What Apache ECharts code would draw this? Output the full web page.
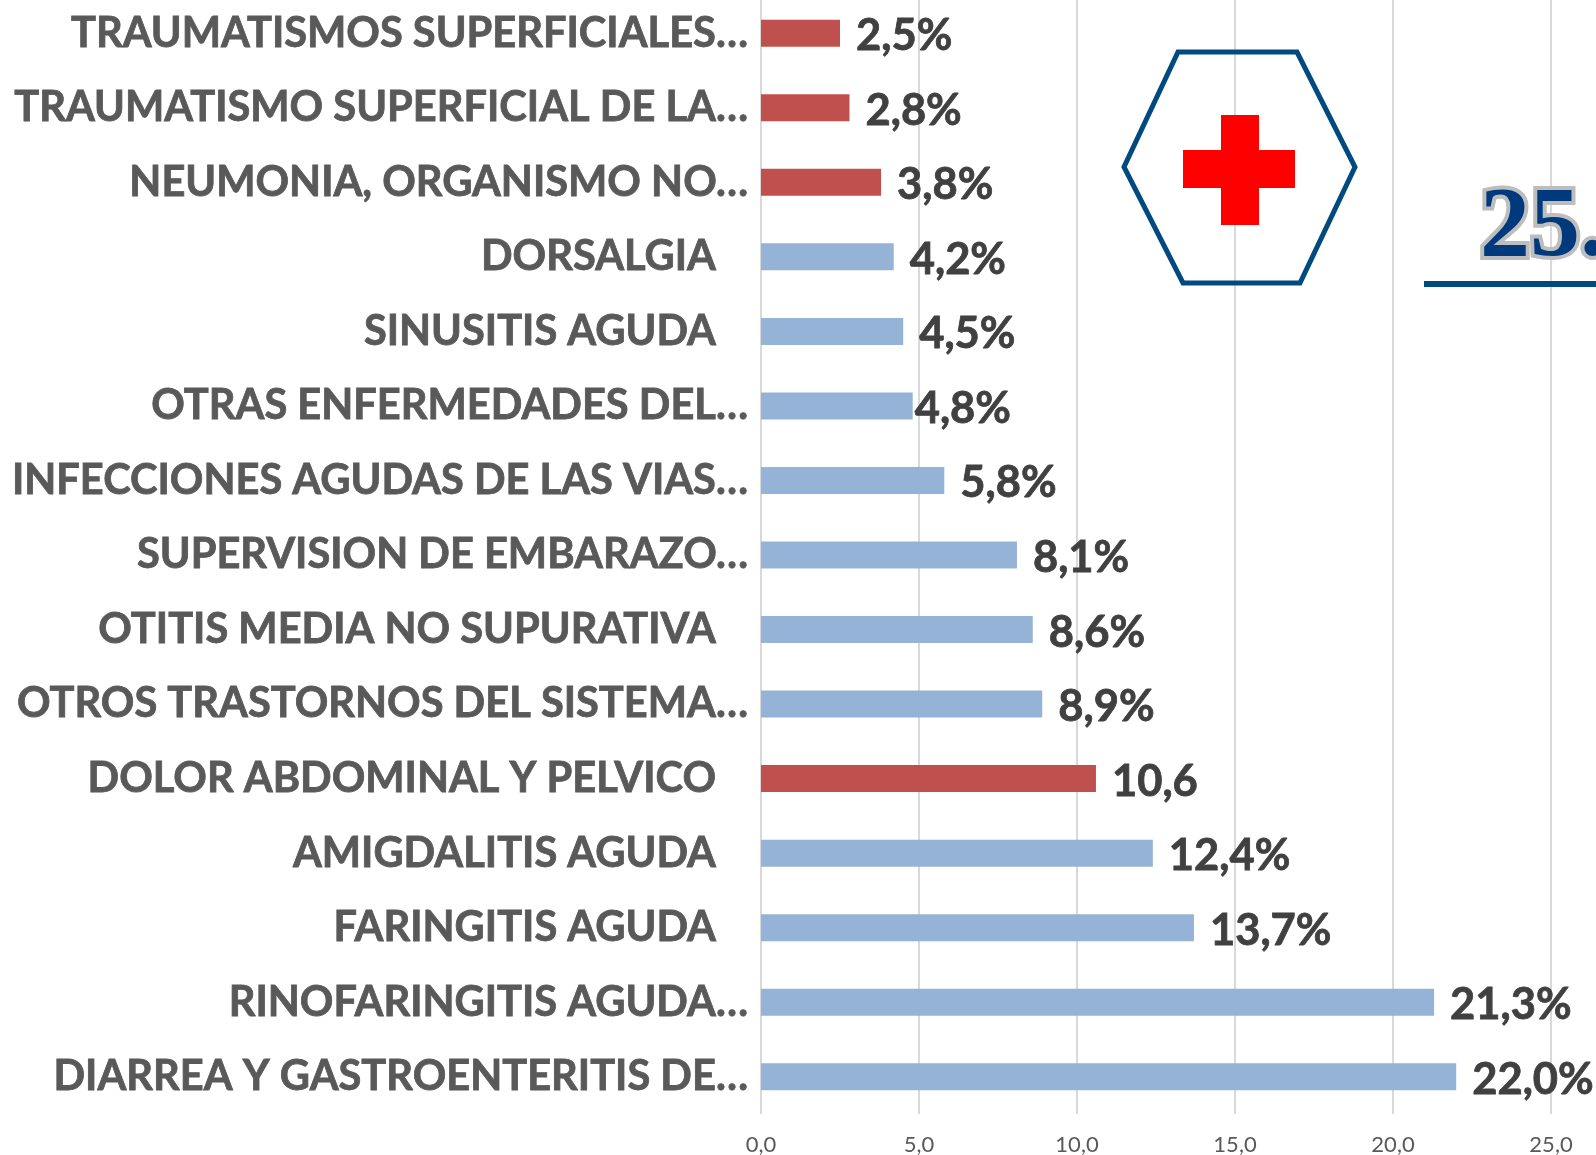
<!DOCTYPE html>
<html><head><meta charset="utf-8">
<style>html,body{margin:0;padding:0;background:#fff}#c{width:1596px;height:1155px}</style>
<script src="https://cdn.jsdelivr.net/npm/echarts@6/dist/echarts.min.js"></script>
</head><body><div id="c"></div>
<script>
const categories = ["TRAUMATISMOS SUPERFICIALES…","TRAUMATISMO SUPERFICIAL DE LA…","NEUMONIA, ORGANISMO NO…","DORSALGIA","SINUSITIS AGUDA","OTRAS ENFERMEDADES DEL…","INFECCIONES AGUDAS DE LAS VIAS…","SUPERVISION DE EMBARAZO…","OTITIS MEDIA NO SUPURATIVA","OTROS TRASTORNOS DEL SISTEMA…","DOLOR ABDOMINAL Y PELVICO","AMIGDALITIS AGUDA","FARINGITIS AGUDA","RINOFARINGITIS AGUDA…","DIARREA Y GASTROENTERITIS DE…"];
const values = [2.5,2.8,3.8,4.2,4.5,4.8,5.8,8.1,8.6,8.9,10.6,12.4,13.7,21.3,22.0];
const valueLabels = ["2,5%","2,8%","3,8%","4,2%","4,5%","4,8%","5,8%","8,1%","8,6%","8,9%","10,6","12,4%","13,7%","21,3%","22,0%"];
const highlighted = ["TRAUMATISMOS SUPERFICIALES…","TRAUMATISMO SUPERFICIAL DE LA…","NEUMONIA, ORGANISMO NO…","DOLOR ABDOMINAL Y PELVICO"];
const blue = "#95B3D7", red = "#C0504D";
const fontName = 'Lato,"Open Sans",sans-serif';
const catLabel = {fontFamily:fontName,fontWeight:'bold',fontSize:41.6,color:'#595959',textBorderColor:'#595959',textBorderWidth:0.8};
const chart = echarts.init(document.getElementById('c'), null, {renderer:'canvas'});
chart.setOption({
  animation:false,
  backgroundColor:'#fff',
  grid:{left:761,width:790,top:-4,height:1118,containLabel:false,outerBoundsMode:'none'},
  xAxis:{type:'value',min:0,max:25,interval:5,
    axisLine:{show:false},axisTick:{show:false},
    splitLine:{lineStyle:{color:'#D9D9D9',width:2}},
    axisLabel:{margin:20,fontFamily:fontName,fontSize:22,color:'#595959',
      formatter:v=>v.toFixed(1).replace('.',',')}},
  yAxis:{type:'category',inverse:true,data:categories,
    axisLine:{show:false},axisTick:{show:false},
    axisLabel:{margin:13,interval:0,
      formatter:v=>(v.endsWith('…')?'{a|'+v+'}':'{b|'+v+'}'),
      rich:{
        a:{...catLabel},
        b:{...catLabel,padding:[0,32,0,0]}
      }}},
  series:[{type:'bar',barWidth:27,
    data:values.map((v,i)=>({value:v,
      itemStyle:{color:highlighted.includes(categories[i])?red:blue},
      label:{distance:valueLabels[i]==='4,8%'?2:16}})),
    label:{show:true,position:'right',offset:[0,3],
      fontFamily:fontName,fontWeight:'bold',fontSize:43.5,color:'#404040',textBorderColor:'#404040',textBorderWidth:0.8,
      formatter:p=>valueLabels[p.dataIndex]}}],
  graphic:[
    {type:'polygon',silent:true,z:5,shape:{points:[[1178,52],[1297,52],[1355,167],[1300,283],[1183,283],[1124,167]]},
      style:{fill:'rgba(0,0,0,0)',stroke:'#004A80',lineWidth:5}},
    {type:'rect',silent:true,z:5,shape:{x:1221,y:115,width:38,height:110},style:{fill:'#FF0000'}},
    {type:'rect',silent:true,z:5,shape:{x:1183,y:150,width:112,height:38},style:{fill:'#FF0000'}},
    {type:'rect',silent:true,z:5,shape:{x:1424,y:281,width:172,height:6},style:{fill:'#004A80'}},
    {type:'text',silent:true,z:5,x:1480,y:179,style:{text:'25.',fontFamily:'"Liberation Serif",serif',fontWeight:'bold',fontSize:100,fill:'#003A7D',stroke:'#BDBDBD',lineWidth:8,strokeFirst:true}}
  ]
});
</script></body></html>
